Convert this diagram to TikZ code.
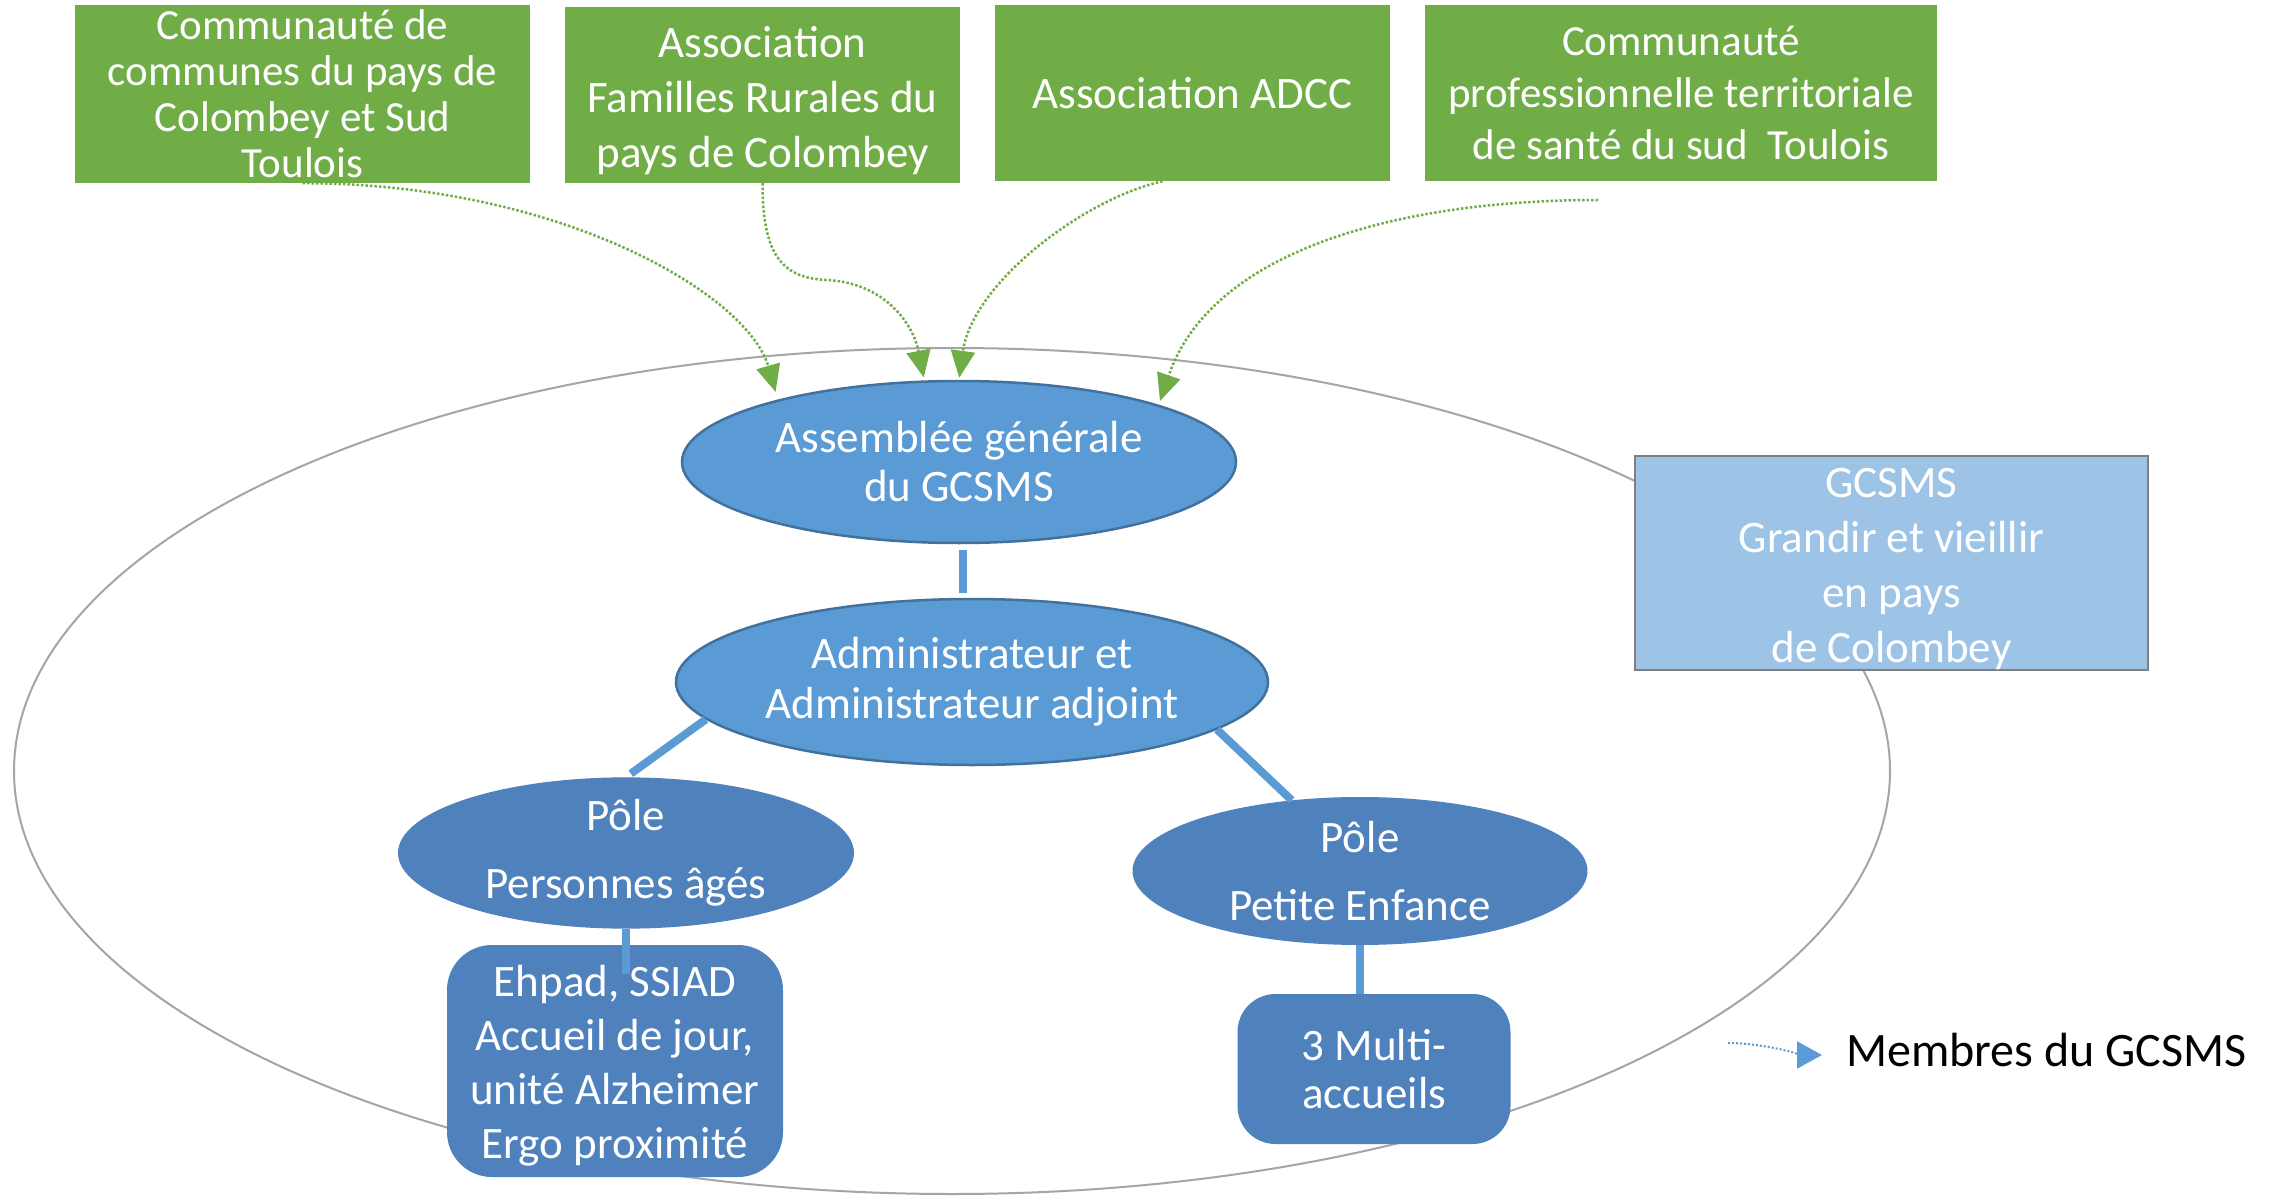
\documentclass[tikz,border=0pt]{standalone}
\usepackage{fontspec}
\setmainfont{Carlito}
\usetikzlibrary{shapes.geometric,arrows.meta,calc}
\definecolor{grn}{HTML}{70AD47}
\definecolor{bluA}{HTML}{5B9BD5}
\definecolor{bluB}{HTML}{4F81BD}
\definecolor{bluBorder}{HTML}{41719C}
\definecolor{bluL}{HTML}{9DC3E6}
\definecolor{grayE}{HTML}{A5A5A5}
\definecolor{grayB}{HTML}{7F7F7F}
\begin{document}
\begin{tikzpicture}[x=1pt,y=-1pt,
  greenbox/.style={fill=grn, text=white, align=center, inner sep=0pt},
  topell/.style={ellipse, fill=bluA, draw=bluBorder, line width=2.5pt, text=white, align=center, inner sep=0pt},
  poleell/.style={ellipse, fill=bluB, text=white, align=center, inner sep=0pt},
  unitbox/.style={rectangle, fill=bluB, text=white, align=center, inner sep=0pt},
  wtext/.style={text=white, align=center, inner sep=0pt},
  garrow/.style={grn, line width=2.5pt, dash pattern=on 2.5pt off 2pt, -{Triangle[length=27pt,width=24pt]}},
  conn/.style={bluA, line width=8pt}]
\useasboundingbox (0,0) rectangle (2271,1198);
\fill[white] (0,0) rectangle (2271,1198);

% big enclosing ellipse
\draw[grayE, line width=2pt] (952,771) ellipse [x radius=938pt, y radius=423pt];

% member boxes
\node[greenbox, minimum width=455pt, minimum height=178pt, font=\fontsize{43}{46}\selectfont] (b1) at (302.5,94)
  {Communauté de\\communes du pays de\\Colombey et Sud\\Toulois};
\node[greenbox, minimum width=395pt, minimum height=176pt,
  label={[wtext, yshift=-6pt, font=\fontsize{45}{55}\selectfont]center:{Association\\Familles Rurales du\\pays de Colombey}}] (b2) at (762.5,95) {};
\node[greenbox, minimum width=395pt, minimum height=176pt, font=\fontsize{45}{53}\selectfont] (b3) at (1192.5,93)
  {Association ADCC};
\node[greenbox, minimum width=512pt, minimum height=176pt, font=\fontsize{43}{52}\selectfont] (b4) at (1681,93)
  {Communauté\\professionnelle territoriale\\de santé du sud~ Toulois};
\coordinate (b4s) at (1598,200);

% structure
\node[topell, minimum width=554pt, minimum height=162pt, font=\fontsize{45}{49}\selectfont] (ag) at (959,462)
  {Assemblée générale\\du GCSMS};
\node[topell, minimum width=592pt, minimum height=166pt, font=\fontsize{45}{50}\selectfont] (adm) at (972,682)
  {Administrateur et\\Administrateur adjoint};
\node[poleell, minimum width=456pt, minimum height=142pt, font=\fontsize{45}{68}\selectfont] (ppa) at (626,853)
  {Pôle\\Personnes âgés};
\node[poleell, minimum width=455pt, minimum height=148pt, font=\fontsize{45}{68}\selectfont] (ppe) at (1360,871)
  {Pôle\\Petite Enfance};
\node[unitbox, rounded corners=45pt, minimum width=336pt, minimum height=232pt,
  label={[wtext, yshift=-5pt, font=\fontsize{45}{54}\selectfont]center:{Ehpad, SSIAD\\Accueil de jour,\\unité Alzheimer\\Ergo proximité}}] (eh) at (615,1061) {};
\node[unitbox, rounded corners=38pt, minimum width=273pt, minimum height=150pt, font=\fontsize{45}{48}\selectfont] (mu) at (1374,1069)
  {3 Multi-\\accueils};

% GCSMS title box
\node[rectangle, fill=bluL, draw=grayB, line width=2.5pt, inner sep=0pt, minimum width=513pt, minimum height=214pt,
  label={[wtext, yshift=-6pt, font=\fontsize{45}{55}\selectfont]center:{GCSMS\\Grandir et vieillir\\en pays\\de Colombey}}] (gc) at (1891.5,563) {};

% connectors
\draw[conn, shorten <=6pt, shorten >=5pt] ([xshift=4pt]ag.south) -- ([xshift=4pt]ag.south |- adm.north);
\draw[conn, shorten >=6pt] (adm.188) -- (ppa.north);
\draw[conn] (adm.-11) -- (ppe.134);
\draw[conn] (ppa.south) -- ++(0,45);
\draw[conn] (ppe.south) -- (ppe.south |- mu.north);

% membership arrows
\draw[garrow, shorten >=8pt] (b1.south) .. controls +(258,0) and +(-30,-105) .. (ag.161);
\draw[garrow, shorten >=3pt] (b2.south) .. controls +(0,70) and +(-45,-2) .. (826,280)
  .. controls +(55,2) and +(-12,-60) .. (ag.113);
\draw[garrow, shorten >=2pt] ([xshift=-30pt]b3.south) .. controls +(-82,19) and +(13,-95) .. (ag.north);
\draw[garrow, shorten >=4pt] (b4s) .. controls +(-198,0) and +(53,-155) .. (ag.16);

% legend
\coordinate (ls) at (1728,1043);
\node[anchor=west, inner sep=0pt, font=\fontsize{48}{55}\selectfont] (lt) at (1846,1050) {Membres du GCSMS};
\draw[bluA, line width=2pt, dash pattern=on 2pt off 2pt, -{Triangle[length=25pt,width=27pt]}, shorten >=24pt]
  (ls) .. controls +(35,0) and +(-40,0) .. (lt.west |- 0,1055);
\end{tikzpicture}
\end{document}
